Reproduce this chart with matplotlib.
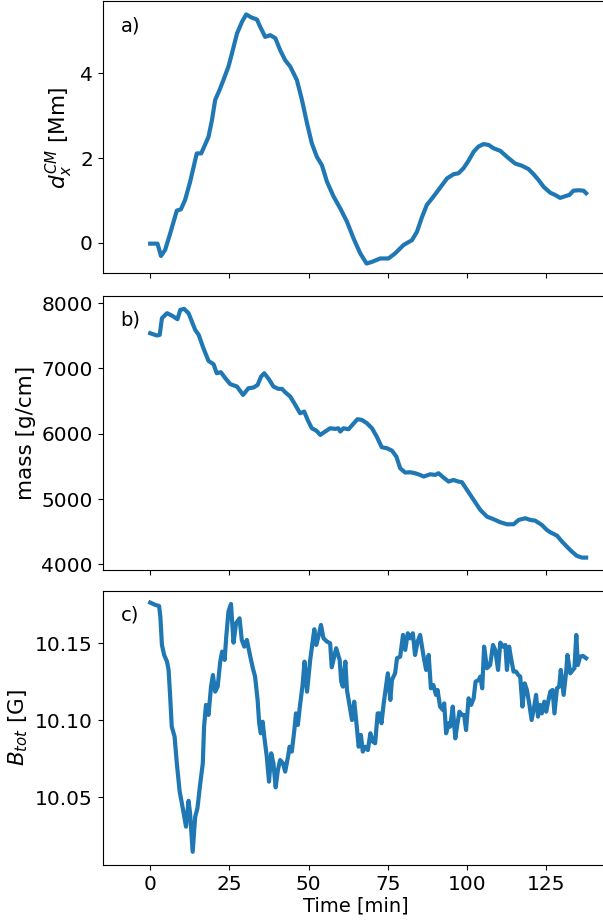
import numpy as np
import matplotlib
matplotlib.use("Agg")
import matplotlib.pyplot as plt
from matplotlib.ticker import FormatStrFormatter

# a) centre of mass displacement [Mm]
t_a = [0, 2.3, 3.4, 4.7, 6.3, 8.4, 9.7, 11.0, 12.6, 14.7, 16.1, 18.4, 19.5, 20.5,
       21.9, 23.1, 24.7, 25.8, 27.4, 29.0, 30.3, 31.9, 33.7, 34.7, 36.3, 37.9, 39.5,
       41.0, 42.6, 44.2, 46.3, 47.9, 49.5, 51.0, 52.6, 54.2, 55.8, 57.9, 60.0, 62.1,
       64.2, 66.3, 68.3, 70.0, 72.6, 75.2, 77.3, 80.0, 82.6, 84.2, 85.8, 87.3, 89.4,
       91.5, 93.7, 95.8, 97.3, 98.9, 100.5, 102.1, 103.6, 105.2, 106.8, 108.4, 110.5,
       112.6, 115.2, 117.3, 119.4, 121.0, 122.6, 124.2, 126.3, 127.8, 129.4, 131.0,
       132.3, 133.6, 135.2, 136.8, 137.6]
dx_cm = [-0.02, -0.02, -0.31, -0.17, 0.22, 0.76, 0.79, 1.01, 1.44, 2.11, 2.11, 2.50,
         2.90, 3.37, 3.61, 3.84, 4.16, 4.47, 4.94, 5.22, 5.39, 5.32, 5.27, 5.10, 4.86,
         4.90, 4.83, 4.55, 4.31, 4.16, 3.84, 3.37, 2.82, 2.35, 2.03, 1.83, 1.44, 1.09,
         0.81, 0.50, 0.10, -0.25, -0.49, -0.45, -0.37, -0.37, -0.25, -0.05, 0.06, 0.26,
         0.61, 0.89, 1.09, 1.30, 1.52, 1.62, 1.64, 1.76, 1.94, 2.15, 2.27, 2.33, 2.31,
         2.23, 2.17, 2.03, 1.87, 1.82, 1.74, 1.62, 1.48, 1.32, 1.18, 1.13, 1.06, 1.10,
         1.13, 1.23, 1.24, 1.23, 1.17]

# b) mass [g/cm]
t_b = [0, 2.1, 3.0, 3.7, 5.3, 6.8, 8.6, 9.5, 10.7, 12.1, 14.2, 15.3, 16.8, 18.4,
       20.0, 21.0, 22.3, 23.7, 25.3, 27.4, 29.3, 31.0, 32.6, 33.9, 35.0, 36.0, 37.4,
       38.9, 40.5, 41.6, 42.6, 44.2, 45.8, 47.3, 48.6, 49.7, 51.0, 52.4, 53.7, 55.2,
       56.8, 58.4, 59.4, 60.0, 61.0, 62.6, 64.0, 65.4, 66.8, 68.4, 70.0, 71.5, 73.1,
       74.7, 76.3, 77.7, 78.9, 80.5, 82.1, 83.6, 85.2, 86.3, 88.4, 90.0, 91.0, 92.6,
       94.2, 95.7, 97.3, 98.4, 100.0, 102.1, 104.2, 106.3, 108.4, 110.5, 112.6, 114.7,
       116.3, 118.4, 120.0, 121.5, 123.6, 125.2, 126.3, 128.4, 130.0, 131.5, 133.1,
       134.7, 136.3, 137.6]
mass = [7540, 7505, 7515, 7770, 7847, 7811, 7755, 7898, 7913, 7847, 7591, 7515, 7310,
        7116, 7065, 6927, 6943, 6851, 6759, 6723, 6595, 6697, 6708, 6748, 6876, 6927,
        6840, 6723, 6687, 6687, 6636, 6570, 6442, 6314, 6340, 6212, 6084, 6049, 5982,
        6033, 6084, 6074, 6084, 6033, 6084, 6069, 6146, 6222, 6212, 6161, 6084, 5957,
        5793, 5778, 5742, 5650, 5471, 5405, 5410, 5395, 5369, 5344, 5379, 5369, 5395,
        5328, 5267, 5292, 5267, 5257, 5139, 4986, 4833, 4730, 4690, 4644, 4613, 4613,
        4679, 4705, 4679, 4669, 4603, 4526, 4490, 4439, 4347, 4271, 4194, 4128, 4102,
        4102]

# c) total magnetic field [G]
t_c = [0, 1.6, 2.8, 3.2, 3.7, 4.4, 5.3, 5.8, 6.3, 6.8, 7.7, 8.4, 9.3, 10.0, 11.3,
       12.1, 12.6, 13.4, 14.2, 14.9, 15.8, 16.6, 17.0, 17.6, 18.4, 19.2, 19.8, 20.5,
       21.3, 22.1, 22.7, 23.5, 24.0, 24.7, 25.5, 26.3, 27.1, 28.2, 28.9, 29.7, 30.5,
       31.6, 32.4, 33.1, 33.9, 34.4, 34.9, 35.5, 36.0, 36.8, 37.5, 38.2, 38.9, 39.6,
       40.3, 41.0, 41.9, 42.6, 43.5, 44.0, 44.7, 45.5, 46.0, 46.6, 47.3, 48.1, 48.7,
       49.5, 50.5, 51.8, 52.4, 53.1, 53.9, 54.7, 55.8, 56.8, 57.3, 58.7, 59.8, 60.3,
       60.8, 61.6, 62.1, 62.9, 63.7, 64.4, 65.0, 65.8, 66.5, 67.1, 67.9, 68.7, 69.5,
       70.3, 71.0, 71.8, 72.4, 73.0, 73.7, 75.0, 75.8, 76.3, 77.3, 77.9, 78.9, 79.8,
       80.5, 81.3, 82.1, 82.9, 83.6, 84.4, 85.2, 86.3, 87.1, 87.9, 88.6, 89.4, 90.2,
       90.7, 91.5, 92.4, 92.8, 93.4, 94.2, 94.7, 95.5, 96.3, 97.0, 97.6, 98.4, 99.1,
       99.7, 100.5, 101.3, 102.1, 102.7, 103.7, 104.2, 104.8, 105.4, 106.3, 107.3,
       108.2, 108.9, 109.8, 110.5, 111.4, 112.1, 112.6, 113.3, 113.9, 114.7, 115.5,
       116.2, 116.8, 117.5, 118.2, 118.9, 119.7, 120.4, 121.2, 121.8, 122.4, 123.1,
       123.6, 124.4, 125.0, 125.5, 126.3, 127.0, 127.6, 128.4, 129.1, 129.6, 130.5,
       131.3, 131.7, 132.6, 133.4, 133.9, 134.5, 135.0, 135.7, 136.6, 137.6]
b_tot = [10.1764, 10.1749, 10.1742, 10.1673, 10.1489, 10.1424, 10.1381, 10.1327,
         10.1154, 10.0959, 10.0894, 10.0721, 10.0537, 10.0461, 10.0310, 10.0478,
         10.0396, 10.0147, 10.0374, 10.0429, 10.0591, 10.0721, 10.0959, 10.1100,
         10.1035, 10.1219, 10.1294, 10.1186, 10.1219, 10.1381, 10.1446, 10.1392,
         10.1543, 10.1706, 10.1755, 10.1504, 10.1630, 10.1662, 10.1522, 10.1478,
         10.1522, 10.1413, 10.1338, 10.1284, 10.1132, 10.0981, 10.0916, 10.0991,
         10.0894, 10.0764, 10.0602, 10.0786, 10.0721, 10.0565, 10.0677, 10.0742,
         10.0721, 10.0667, 10.0764, 10.0829, 10.0797, 10.0937, 10.1045, 10.0970,
         10.1100, 10.1229, 10.1381, 10.1186, 10.1392, 10.1591, 10.1489, 10.1543,
         10.1619, 10.1532, 10.1511, 10.1500, 10.1344, 10.1468, 10.1392, 10.1251,
         10.1219, 10.1381, 10.1197, 10.1100, 10.1002, 10.1121, 10.1002, 10.0829,
         10.0905, 10.0797, 10.0829, 10.0807, 10.0916, 10.0861, 10.0851, 10.1045,
         10.1045, 10.0981, 10.1110, 10.1305, 10.1132, 10.1262, 10.1305, 10.1403,
         10.1413, 10.1554, 10.1457, 10.1565, 10.1532, 10.1565, 10.1424, 10.1511,
         10.1554, 10.1413, 10.1327, 10.1424, 10.1208, 10.1229, 10.1165, 10.1197,
         10.1089, 10.1067, 10.1110, 10.0916, 10.0981, 10.0959, 10.1089, 10.0883,
         10.0981, 10.1056, 10.1035, 10.1035, 10.0937, 10.1143, 10.1100, 10.1143,
         10.1251, 10.1262, 10.1284, 10.1208, 10.1478, 10.1338, 10.1359, 10.1489,
         10.1457, 10.1327, 10.1504, 10.1478, 10.1489, 10.1327, 10.1478, 10.1403,
         10.1316, 10.1316, 10.1294, 10.1284, 10.1089, 10.1240, 10.1197, 10.1100,
         10.1002, 10.1089, 10.1165, 10.1024, 10.1100, 10.1045, 10.1121, 10.1056,
         10.1110, 10.1186, 10.1197, 10.1045, 10.1208, 10.1219, 10.1327, 10.1165,
         10.1316, 10.1424, 10.1305, 10.1327, 10.1338, 10.1554, 10.1359, 10.1413,
         10.1418, 10.1403]

plt.rcParams['font.size'] = 14.5

fig = plt.figure(figsize=(6.03, 9.23), dpi=100)
W = 0.8406
ax1 = fig.add_axes([0.1703, 0.7039, W, 0.2947])
ax2 = fig.add_axes([0.1703, 0.3825, W, 0.2972], sharex=ax1)
ax3 = fig.add_axes([0.1703, 0.0628, W, 0.2972], sharex=ax1)

ax1.plot(t_a, dx_cm, color='#1f77b4', lw=3)
ax2.plot(t_b, mass, color='#1f77b4', lw=3)
ax3.plot(t_c, b_tot, color='#1f77b4', lw=3)

ax1.set_xlim(-15, 145)
ax1.set_ylim(-0.72, 5.70)
ax2.set_ylim(3913, 8116)
ax3.set_ylim(10.0061, 10.1841)

ax1.set_yticks([0, 2, 4])
ax2.set_yticks([4000, 5000, 6000, 7000, 8000])
ax3.set_yticks([10.05, 10.10, 10.15])
ax3.yaxis.set_major_formatter(FormatStrFormatter('%.2f'))
ax3.set_xticks([0, 25, 50, 75, 100, 125])

for ax in (ax1, ax2):
    ax.tick_params(labelbottom=False)

ax1.set_ylabel(r'$d_x^{CM}$ [Mm]', fontsize=15.5)
ax2.set_ylabel('mass [g/cm]', fontsize=15.5)
ax3.set_ylabel(r'$B_{tot}$ [G]', fontsize=15.5)
ax3.set_xlabel('Time [min]', fontsize=14, labelpad=2)

for ax, lab in zip((ax1, ax2, ax3), ('a)', 'b)', 'c)')):
    ax.text(0.035, 0.89, lab, transform=ax.transAxes, fontsize=14)

fig.savefig('out.png', dpi=100)
